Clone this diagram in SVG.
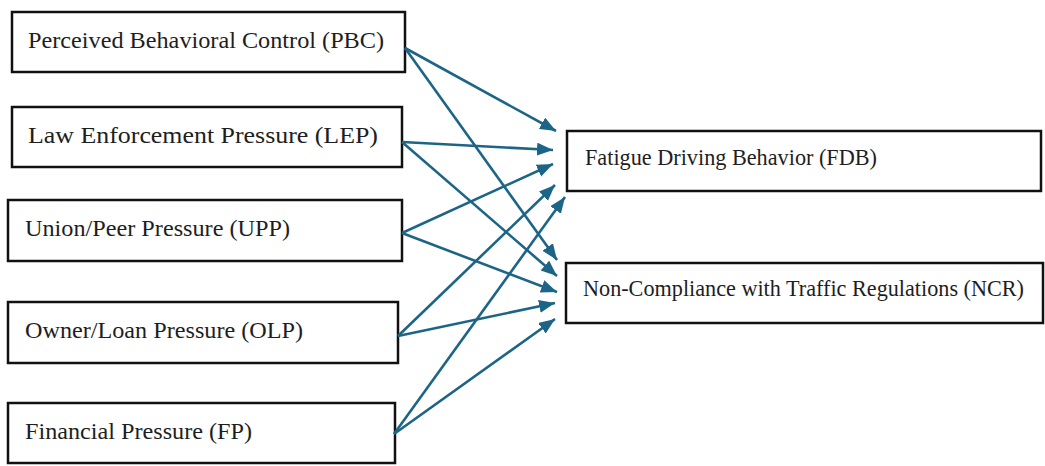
<svg xmlns="http://www.w3.org/2000/svg" width="1045" height="466" viewBox="0 0 1045 466">
  <style>
    .box { fill: #ffffff; stroke: #111111; stroke-width: 2.5; }
    .label { font-family: "Liberation Serif", "Times New Roman", serif; font-size: 24px; fill: #1e1e1e; }
    .label.out { font-size: 23px; }
    .link { stroke: #1d6587; stroke-width: 2.6; fill: none; marker-end: url(#head); }
  </style>
  <defs>
    <marker id="head" markerUnits="userSpaceOnUse" markerWidth="17" markerHeight="14" refX="16" refY="6.5" orient="auto">
      <path d="M0,0 L16,6.5 L0,13 Z" fill="#1d6587"/>
    </marker>
  </defs>

  <rect width="1045" height="466" fill="#ffffff"/>

  <!-- predictors -->
  <g id="pbc">
    <rect class="box" x="12" y="12" width="393" height="60"/>
    <text class="label" x="28" y="48" textLength="356" lengthAdjust="spacingAndGlyphs">Perceived Behavioral Control (PBC)</text>
  </g>
  <g id="lep">
    <rect class="box" x="12" y="107" width="390" height="60"/>
    <text class="label" x="28" y="143" textLength="350" lengthAdjust="spacingAndGlyphs">Law Enforcement Pressure (LEP)</text>
  </g>
  <g id="upp">
    <rect class="box" x="8" y="200" width="394" height="61"/>
    <text class="label" x="25" y="236" textLength="265" lengthAdjust="spacingAndGlyphs">Union/Peer Pressure (UPP)</text>
  </g>
  <g id="olp">
    <rect class="box" x="8" y="302" width="390" height="61"/>
    <text class="label" x="25" y="338" textLength="278" lengthAdjust="spacingAndGlyphs">Owner/Loan Pressure (OLP)</text>
  </g>
  <g id="fp">
    <rect class="box" x="8" y="403" width="387" height="60"/>
    <text class="label" x="25" y="439" textLength="227" lengthAdjust="spacingAndGlyphs">Financial Pressure (FP)</text>
  </g>

  <!-- outcomes -->
  <g id="fdb">
    <rect class="box" x="567" y="131" width="474" height="60"/>
    <text class="label out" x="585" y="165" textLength="292" lengthAdjust="spacingAndGlyphs">Fatigue Driving Behavior (FDB)</text>
  </g>
  <g id="ncr">
    <rect class="box" x="566" y="263" width="477" height="60"/>
    <text class="label out" x="583" y="296" textLength="441" lengthAdjust="spacingAndGlyphs">Non-Compliance with Traffic Regulations (NCR)</text>
  </g>

  <!-- paths -->
  <g id="connectors">
    <line class="link" x1="405" y1="48" x2="556" y2="131"/>
    <line class="link" x1="405" y1="48" x2="557" y2="260"/>
    <line class="link" x1="402" y1="142" x2="553" y2="150"/>
    <line class="link" x1="402" y1="142" x2="557" y2="276"/>
    <line class="link" x1="402" y1="233" x2="553" y2="164"/>
    <line class="link" x1="402" y1="233" x2="557" y2="292"/>
    <line class="link" x1="398" y1="336" x2="555" y2="185"/>
    <line class="link" x1="398" y1="336" x2="555" y2="303"/>
    <line class="link" x1="394" y1="434" x2="565" y2="197"/>
    <line class="link" x1="394" y1="434" x2="555" y2="319"/>
  </g>
</svg>
